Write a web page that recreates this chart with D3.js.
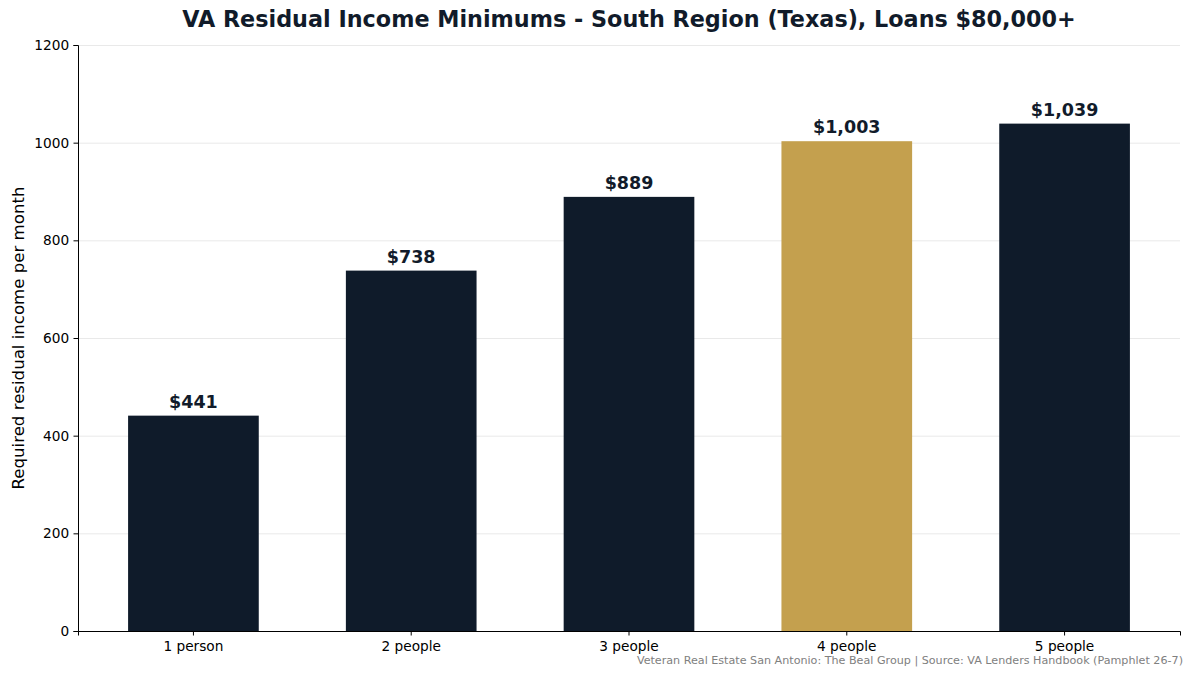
<!DOCTYPE html>
<meta charset="utf-8">
<style>
body { margin: 0; background: #fff; }
text { font-family: "DejaVu Sans", sans-serif; }
.grid line { stroke: #e3e3e3; stroke-width: 0.8px; }
.grid path { display: none; }
.axis text { font-size: 13.7px; fill: #000; }
</style>
<body></body>
<script src="https://cdn.jsdelivr.net/npm/d3@7"></script>
<script>
// data
var categories = ["1 person", "2 people", "3 people", "4 people", "5 people"];
var values = [441, 738, 889, 1003, 1039];
var highlight = ["4 people"];
var yTicks = [0, 200, 400, 600, 800, 1000, 1200];

var W = 1193, H = 675;
var margin = {top: 45, right: 13, bottom: 44, left: 78};
var width = W - margin.left - margin.right,
    height = H - margin.top - margin.bottom;

var svg = d3.select("body").append("svg")
    .attr("width", W).attr("height", H);

var g = svg.append("g")
    .attr("transform", "translate(" + margin.left + "," + margin.top + ")");

var x = d3.scaleBand().domain(categories).range([0, width])
    .paddingInner(0.4).paddingOuter(0.23);
var y = d3.scaleLinear().domain([0, 1200]).range([height, 0]);

// grid
g.append("g").attr("class", "grid")
    .call(d3.axisLeft(y).tickValues(yTicks).tickSize(-width).tickFormat(""));

// bars
g.selectAll(".bar").data(categories).enter().append("rect")
    .attr("class", "bar")
    .attr("x", function(d) { return x(d); })
    .attr("width", x.bandwidth())
    .attr("y", function(d, i) { return y(values[i]); })
    .attr("height", function(d, i) { return height - y(values[i]); })
    .attr("fill", function(d) { return highlight.includes(d) ? "#c4a04e" : "#0f1b2a"; });

// value labels
g.selectAll(".val").data(categories).enter().append("text")
    .attr("x", function(d) { return x(d) + x.bandwidth() / 2; })
    .attr("y", function(d, i) { return y(values[i]) - 8; })
    .attr("text-anchor", "middle")
    .style("font-size", "17.5px").style("font-weight", "bold").style("fill", "#111b2a")
    .text(function(d, i) { return "$" + d3.format(",")(values[i]); });

// axes
var xAxis = g.append("g").attr("class", "axis")
    .attr("transform", "translate(0," + height + ")")
    .call(d3.axisBottom(x).tickSizeOuter(0).tickSize(4.5));
xAxis.selectAll("text").attr("dy", "0.9em");
xAxis.select(".domain").attr("stroke", "#000").attr("stroke-width", 1);

var yAxis = g.append("g").attr("class", "axis")
    .call(d3.axisLeft(y).tickValues(yTicks).tickFormat(d3.format("d")).tickSizeOuter(0).tickSize(4.5));
yAxis.selectAll("text").attr("dx", "-0.1em");

// y label
svg.append("text")
    .attr("transform", "translate(24," + (margin.top + height / 2) + ") rotate(-90)")
    .attr("text-anchor", "middle")
    .style("font-size", "16.6px").style("fill", "#000")
    .text("Required residual income per month");

// title
svg.append("text")
    .attr("x", margin.left + width / 2).attr("y", 27)
    .attr("text-anchor", "middle")
    .style("font-size", "22.3px").style("font-weight", "bold").style("fill", "#111b2a")
    .text("VA Residual Income Minimums - South Region (Texas), Loans $80,000+");

// footer
svg.append("text")
    .attr("x", W - 10).attr("y", 664)
    .attr("text-anchor", "end")
    .style("font-size", "11.15px").style("fill", "#808080")
    .text("Veteran Real Estate San Antonio: The Beal Group | Source: VA Lenders Handbook (Pamphlet 26-7)");
</script>
